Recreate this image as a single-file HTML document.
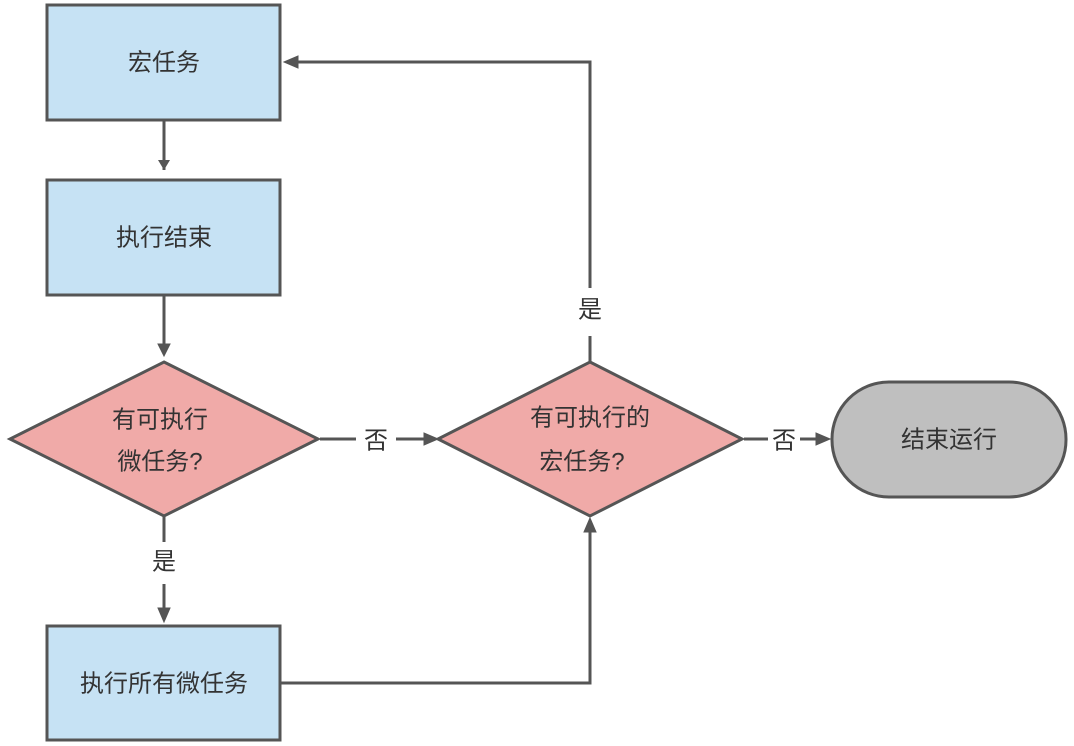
<!DOCTYPE html>
<html><head><meta charset="utf-8"><style>
html,body{margin:0;padding:0;background:#fff;}
svg{display:block}
text{font-family:"Liberation Sans","Noto Sans CJK SC",sans-serif;font-size:24px;fill:#333;text-anchor:middle;dominant-baseline:central}
</style></head><body>
<svg width="1074" height="746" viewBox="0 0 1074 746">
<defs><marker id="a" markerWidth="10" markerHeight="10" refX="8" refY="5" orient="auto" markerUnits="userSpaceOnUse"><path d="M0,0 L10,5 L0,10 Z" fill="#555"/></marker></defs>
<g stroke="#555" stroke-width="3" fill="none">
<rect x="47" y="5" width="233" height="115" fill="#c6e2f4"/>
<rect x="47" y="180" width="233" height="115" fill="#c6e2f4"/>
<rect x="47" y="626" width="233" height="114" fill="#c6e2f4"/>
<polygon points="164,362 318,439 164,516 10,439" fill="#f0aaa8"/>
<polygon points="590,362 742,439 590,516 438,439" fill="#f0aaa8"/>
<rect x="832" y="382" width="234" height="115" rx="57" fill="#bfbfbf"/>
<line x1="164" y1="120" x2="164" y2="170"/>
<path d="M164 170 L158 160 L170 160 Z" fill="#555" stroke="none"/>
<line x1="164" y1="295" x2="164" y2="352"/>
<path d="M164 356 L158 344 L170 344 Z" fill="#555" stroke-width="1"/>
<line x1="164" y1="516" x2="164" y2="542"/>
<line x1="164" y1="584" x2="164" y2="612"/>
<path d="M164 622 L158 608 L170 608 Z" fill="#555" stroke-width="1"/>
<line x1="320" y1="439" x2="356" y2="439"/>
<line x1="396" y1="439" x2="428" y2="439"/>
<path d="M438 439 L424 433 L424 445 Z" fill="#555" stroke-width="1"/>
<line x1="744" y1="439" x2="768" y2="439"/>
<line x1="800" y1="439" x2="820" y2="439"/>
<path d="M830 439 L816 433 L816 445 Z" fill="#555" stroke-width="1"/>
<polyline points="280,683 590,683 590,530"/>
<path d="M590 518 L584 532 L596 532 Z" fill="#555" stroke-width="1"/>
<polyline points="590,362 590,336"/>
<polyline points="590,288 590,62 296,62"/>
<path d="M284 62 L298 56 L298 68 Z" fill="#555" stroke-width="1"/>
</g>
<text x="164" y="63">宏任务</text>
<text x="164" y="238">执行结束</text>
<text x="164" y="684">执行所有微任务</text>
<text x="160" y="420">有可执行</text>
<text x="160" y="462">微任务?</text>
<text x="590" y="418">有可执行的</text>
<text x="582" y="462">宏任务?</text>
<text x="949" y="440">结束运行</text>
<text x="376" y="441">否</text>
<text x="784" y="441">否</text>
<text x="164" y="562">是</text>
<text x="590" y="310">是</text>
</svg>
</body></html>
